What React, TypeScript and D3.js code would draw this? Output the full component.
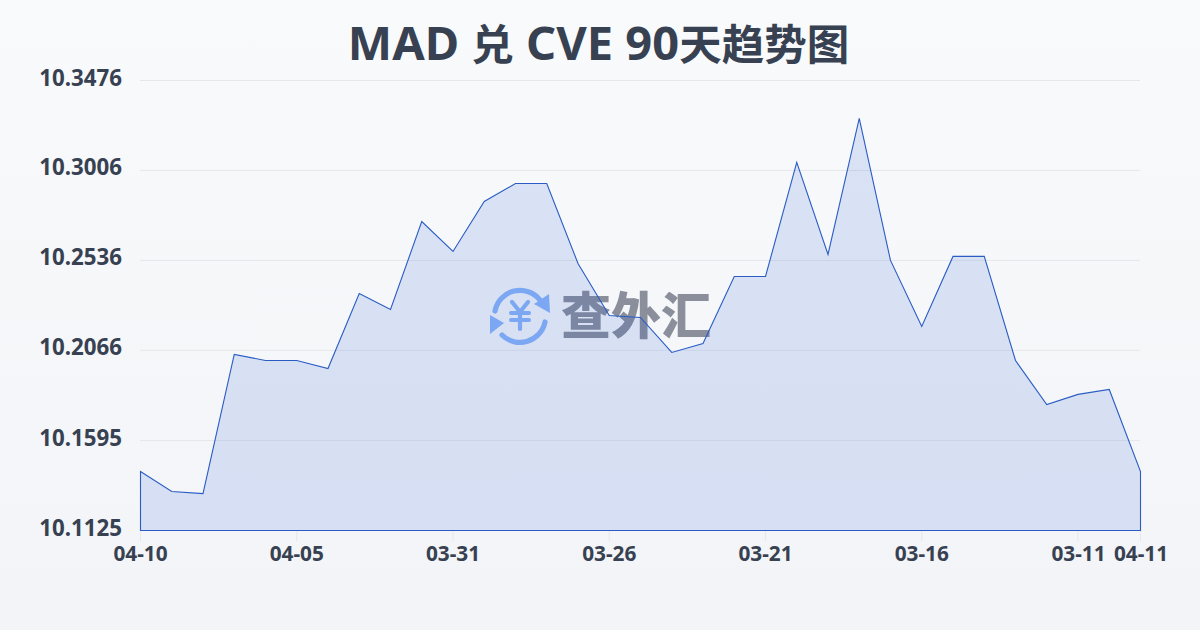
import React from "react";
import * as d3 from "d3";

const rates = [10.1433,10.1329,10.1318,10.2045,10.2013,10.2013,10.1971,10.2363,10.2280,10.2739,10.2583,10.2844,10.2938,10.2938,10.2520,10.2248,10.2238,10.2055,10.2102,10.2452,10.2452,10.3048,10.2567,10.3278,10.2536,10.2191,10.2557,10.2557,10.2013,10.1783,10.1836,10.1862,10.1433];
const yTicks = [10.1125,10.1595,10.2066,10.2536,10.3006,10.3476];
const xTickIndex = [0,5,10,15,20,25,30,32];
const xTickLabels = ["04-10","04-05","03-31","03-26","03-21","03-16","03-11","04-11"];
const brand = "查外汇";

const FONT = '"Noto Sans","Noto Sans CJK SC",sans-serif';
const CJK = '"Noto Sans CJK SC",sans-serif';
const INK = "#374151";
const BLUE = "#8ab4f8";
const GRID = "#e5e7eb";

export default function App() {
  const x = d3.scaleLinear().domain([0, rates.length - 1]).range([140.5, 1140.5]);
  const y = d3.scaleLinear().domain([10.1125, 10.3476]).range([530.5, 80.5]);
  const line = d3.line<number>().x((_, i) => x(i)).y(d => y(d));
  const area = d3.area<number>().x((_, i) => x(i)).y0(y(10.1125)).y1(d => y(d));
  return (
    <svg width={1200} height={630} style={{ position: "absolute", left: 0, top: 0, fontFamily: FONT }}>
      <defs>
        <linearGradient id="bg" x1="0" y1="0" x2="0" y2="1">
          <stop offset="0" stopColor="#f8fafc" />
          <stop offset="1" stopColor="#f2f4f7" />
        </linearGradient>
      </defs>
      <rect width={1200} height={630} fill="url(#bg)" />
      <text x={598.5} y={60} textAnchor="middle" fontSize={47} fontWeight={700} fill={INK}>
        MAD <tspan fontFamily={CJK} fontSize={42.5}>兑</tspan> CVE 90<tspan fontFamily={CJK} fontSize={42.5}>天趋势图</tspan>
      </text>
      {yTicks.map((t, i) => (
        <g key={t}>
          {i > 0 && <line x1={140} x2={1140} y1={y(t)} y2={y(t)} stroke={GRID} strokeWidth={1} />}
          <text x={122} y={y(t) + 5} textAnchor="end" fontSize={22.3} fontWeight={700} fill={INK}>{t.toFixed(4)}</text>
        </g>
      ))}
      {xTickIndex.map((idx, i) => (
        <g key={idx}>
          <line x1={x(idx)} x2={x(idx)} y1={530} y2={541} stroke={GRID} />
          <text x={x(idx) + (idx >= 30 ? 0.5 : 0)} y={560.5} textAnchor="middle" fontSize={20.8} fontWeight={700} fill={INK}>{xTickLabels[i]}</text>
        </g>
      ))}
      <g>
        <g fill="none" stroke={BLUE} strokeWidth={5.2} strokeLinecap="round">
          <path d="M 495 311 A 25.5 25.5 0 0 1 540 300" />
          <path d="M 545 322 A 25.5 25.5 0 0 1 502 335" />
          <path d="M 512 302 L 520 312 L 528 302 M 520 312 L 520 329" strokeWidth={4.2} />
          <path d="M 511 313 L 529 313 M 511 320 L 529 320" strokeWidth={4} />
        </g>
        <path d="M 549 294 L 550 313 L 534 304 Z" fill={BLUE} />
        <path d="M 490 334 L 490 315 L 504 323 Z" fill={BLUE} />
        <text x={636} y={334} textAnchor="middle" fontFamily={CJK} fontSize={50} fontWeight={900} fill="#6b7280" fillOpacity={0.78}>{brand}</text>
      </g>
      <path d={area(rates) ?? ""} fill="#2050d0" fillOpacity={0.135} />
      <path d={`${line(rates)}L${x(32)},${y(10.1125)}L${x(0)},${y(10.1125)}Z`} fill="none" stroke="#2a5cc4" strokeWidth={1.1} />
    </svg>
  );
}
